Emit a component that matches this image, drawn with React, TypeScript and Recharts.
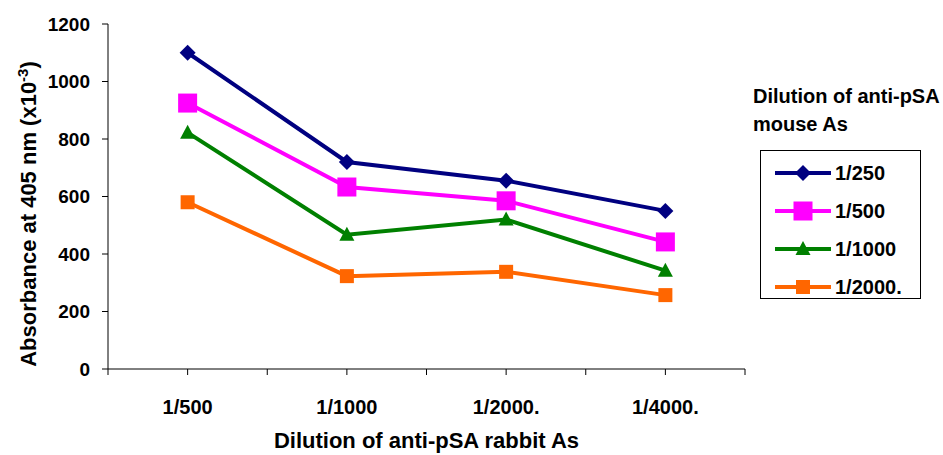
import React from 'react'
import { LineChart, Line, XAxis, YAxis } from 'recharts'

const categories = ['1/500', '1/1000', '1/2000.', '1/4000.']
const mouse250 = [1100, 720, 655, 550]
const mouse500 = [925, 633, 585, 442]
const mouse1000 = [822, 467, 520, 342]
const mouse2000 = [580, 323, 338, 257]
const yTicks = [0, 200, 400, 600, 800, 1000, 1200]

const FONT = '"Liberation Sans", Arial, sans-serif'

type Shape = 'diamond' | 'square' | 'bigSquare' | 'triangle'

const SERIES: { key: string; label: string; color: string; shape: Shape }[] = [
  { key: 'm250', label: '1/250', color: '#000080', shape: 'diamond' },
  { key: 'm500', label: '1/500', color: '#FF00FF', shape: 'bigSquare' },
  { key: 'm1000', label: '1/1000', color: '#008000', shape: 'triangle' },
  { key: 'm2000', label: '1/2000.', color: '#FF6600', shape: 'square' },
]

const data = categories.map((c, i) => ({
  x: i + 0.5,
  label: c,
  m250: mouse250[i],
  m500: mouse500[i],
  m1000: mouse1000[i],
  m2000: mouse2000[i],
}))

// ticks on every category centre and every boundary, like the original
const xTicks: number[] = []
for (let i = 0; i <= categories.length * 2; i++) xTicks.push(i / 2)

function marker(shape: Shape, cx: number, cy: number, color: string, key?: string) {
  if (shape === 'diamond') {
    const r = 8
    return <polygon key={key} points={`${cx},${cy - r} ${cx + r},${cy} ${cx},${cy + r} ${cx - r},${cy}`} fill={color} />
  }
  if (shape === 'bigSquare') {
    const r = 9.5
    return <rect key={key} x={cx - r} y={cy - r} width={r * 2} height={r * 2} fill={color} />
  }
  if (shape === 'square') {
    const r = 7
    return <rect key={key} x={cx - r} y={cy - r} width={r * 2} height={r * 2} fill={color} />
  }
  return <polygon key={key} points={`${cx},${cy - 8} ${cx + 7.5},${cy + 6} ${cx - 7.5},${cy + 6}`} fill={color} />
}

const XTick = (props: any) => {
  const { x, y, payload } = props
  const v = payload.value
  if (Number.isInteger(v)) return <g />
  return (
    <text x={x} y={y + 37} textAnchor="middle" fontFamily={FONT} fontWeight="bold" fontSize={20} fill="#000">
      {categories[Math.floor(v)]}
    </text>
  )
}

const XTitle = (props: any) => {
  const { viewBox } = props
  return (
    <text x={viewBox.x + viewBox.width / 2} y={viewBox.y + 79} textAnchor="middle"
      fontFamily={FONT} fontWeight="bold" fontSize={22} fill="#000">
      Dilution of anti-pSA rabbit As
    </text>
  )
}

const YTitle = () => (
  <text x={36} y={214} transform="rotate(-90, 36, 214)" textAnchor="middle"
    fontFamily={FONT} fontWeight="bold" fontSize={22} fill="#000">
    Absorbance at 405 nm (x10<tspan dy={-8} fontSize={15}>-3</tspan><tspan dy={8}>)</tspan>
  </text>
)

const LegendBox = () => (
  <div style={{ position: 'absolute', left: 750, top: 82, width: 193, fontFamily: FONT, fontWeight: 'bold', color: '#000' }}>
    <div style={{ fontSize: 20, lineHeight: '28px', marginLeft: 3, whiteSpace: 'nowrap' }}>
      Dilution of anti-pSA<br />mouse As
    </div>
    <div style={{ marginLeft: 10, marginTop: 12, width: 161, height: 149, border: '1px solid #000', boxSizing: 'border-box', paddingTop: 3 }}>
      {SERIES.map(s => (
        <div key={s.key} style={{ display: 'flex', alignItems: 'center', height: 38 }}>
          <svg width={74} height={24} style={{ display: 'block' }}>
            <line x1={14} x2={70} y1={12} y2={12} stroke={s.color} strokeWidth={4} />
            {marker(s.shape, 42, 12, s.color)}
          </svg>
          <span style={{ fontSize: 20 }}>{s.label}</span>
        </div>
      ))}
    </div>
  </div>
)

export default function App() {
  return (
    <div style={{ position: 'absolute', left: 0, top: 0, width: 943, height: 455, background: '#fff' }}>
      <LineChart width={943} height={455} data={data} margin={{ top: 24, right: 198, bottom: 0, left: 0 }}>
        <XAxis
          dataKey="x"
          type="number"
          domain={[0, categories.length]}
          ticks={xTicks}
          interval={0}
          tick={<XTick />}
          tickSize={6}
          height={86}
          axisLine={{ stroke: '#000', strokeWidth: 1 }}
          tickLine={{ stroke: '#000', strokeWidth: 1 }}
          label={<XTitle />}
        />
        <YAxis
          domain={[0, 1200]}
          ticks={yTicks}
          interval={0}
          width={108}
          tickSize={6}
          tickMargin={12}
          tick={{ fontFamily: FONT, fontWeight: 'bold', fontSize: 19, fill: '#000' }}
          axisLine={{ stroke: '#000', strokeWidth: 1 }}
          tickLine={{ stroke: '#000', strokeWidth: 1 }}
          label={<YTitle />}
        />
        {SERIES.map(s => (
          <Line
            key={s.key}
            dataKey={s.key}
            name={s.label}
            type="linear"
            stroke={s.color}
            strokeWidth={4}
            isAnimationActive={false}
            dot={(p: any) => marker(s.shape, p.cx, p.cy, s.color, `${s.key}-${p.index}`)}
            activeDot={false}
          />
        ))}
      </LineChart>
      <LegendBox />
    </div>
  )
}
